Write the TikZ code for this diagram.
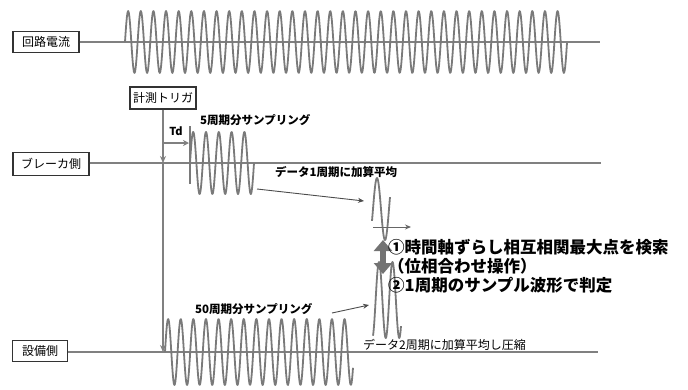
\documentclass[tikz,border=0pt]{standalone}
\usepackage{fontspec}
\setmainfont{Noto Sans CJK JP}
\usetikzlibrary{arrows.meta}
\tikzset{
  lbl/.style={draw=black!80, line width=1.3pt, fill=white, inner sep=0pt, font=\fontsize{12}{12}\selectfont},
  baseln/.style={draw=black!50, line width=1.8pt},
  wave/.style={draw=black!52, line width=1.8pt, line join=round},
  thinarrow/.style={draw=black!70, line width=0.9pt, -{Stealth[length=6pt,width=5pt]}},
  note/.style={font=\fontsize{11.5}{12}\selectfont\bfseries, inner sep=0pt, anchor=west},
  big/.style={font=\fontsize{16.5}{17}\selectfont\bfseries, inner sep=0pt, anchor=west}
}
\begin{document}
\begin{tikzpicture}[x=1pt, y=-1pt]
\useasboundingbox (0,0) rectangle (688,389);
% labels
\node[lbl, minimum width=66pt, minimum height=21pt] (circ) at (46,42) {回路電流};
\node[lbl, minimum width=66pt, minimum height=22pt] (trig) at (163,98) {計測トリガ};
\node[lbl, minimum width=76pt, minimum height=23pt] (brk) at (51,164) {ブレーカ側};
\node[lbl, minimum width=55pt, minimum height=21pt] (eq) at (40,351) {設備側};
% base lines
\coordinate (circE) at (600,42);
\coordinate (brkE) at (601,163);
\coordinate (eqE) at (598,352);
\draw[baseln] (circ.east) -- (circE);
\draw[baseln] (brk.east |- brkE) -- (brkE);
\draw[baseln] (eq.east |- eqE) -- (eqE);
% trigger line
\coordinate (tB) at (163,163);
\coordinate (tE) at (163,352);
\draw[baseln, line width=1.5pt, -{Stealth[length=7pt,width=6pt]}] (trig.south) -- (tB);
\draw[baseln, line width=1.5pt, -{Stealth[length=7pt,width=6pt]}] (tB) -- (tE);
% Td arrow
\coordinate (td0) at (163,143);
\coordinate (td1) at (189,143);
\draw[baseln, line width=1.5pt, -{Stealth[length=6pt,width=6pt]}] (td0) -- (td1);
\node[font=\fontsize{11}{11}\selectfont\bfseries, inner sep=0pt] (tdl) at (176,131) {Td};
% waveforms
\draw[wave] plot[domain=125:567, samples=700] (\x, {42 - 31*sin((\x-125)/12.63*360)});
\draw[wave] (190,126) -- (190,184);
\draw[wave] plot[domain=190:254, samples=200] (\x, {163 - 31*sin((\x-190)/12.8*360)});
\draw[wave] plot[domain=165:353, samples=400] (\x, {352 - 33*sin((\x-165)/12.6*360)});
\draw[wave] plot[domain=372:390, samples=60] (\x, {209 - 31*cos((\x-377)/16*360)});
\draw[wave] plot[domain=373:401, samples=80] (\x, {300 - 38*cos((\x-379)/13.5*360)});
% small axis arrow
\coordinate (ax0) at (373,227);
\coordinate (ax1) at (411,227);
\draw[thinarrow, draw=black!60] (ax0) -- (ax1);
% notes
\node[note] (n5) at (200,120) {5周期分サンプリング};
\node[note] (n1) at (275,172) {データ1周期に加算平均};
\node[note] (n50) at (195,309) {50周期分サンプリング};
\node[note, font=\fontsize{12}{12}\selectfont] (n2) at (363,345) {データ2周期に加算平均し圧縮};
% arrows to averaged waveforms
\coordinate (a1s) at (257,189);
\coordinate (a1e) at (364,201);
\draw[thinarrow] (a1s) -- (a1e);
\coordinate (a2s) at (332,313);
\coordinate (a2e) at (369,305);
\draw[thinarrow] (a2s) -- (a2e);
% double arrow
\coordinate (d0) at (383,240);
\coordinate (d1) at (383,274);
\draw[draw=black!55, line width=6.5pt, {Triangle[length=11pt,width=18pt]}-{Triangle[length=11pt,width=18pt]}] (d0) -- (d1);
% big text
\node[big] (t1) at (388,247) {①時間軸ずらし相互相関最大点を検索};
\node[big] (t2) at (388,266) {（位相合わせ操作）};
\node[big] (t3) at (388,285) {②1周期のサンプル波形で判定};
\end{tikzpicture}
\end{document}
